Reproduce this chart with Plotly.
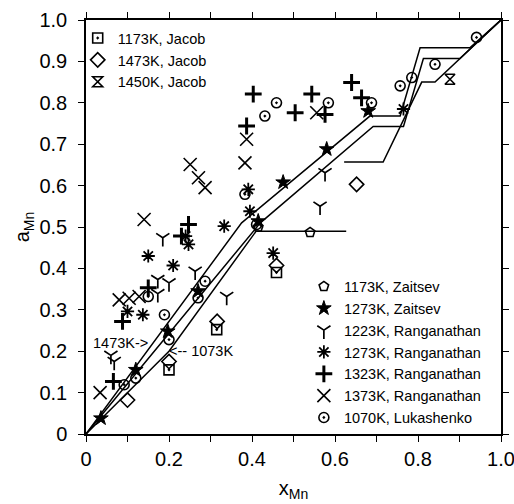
import plotly.graph_objects as go

# ---------------- data ----------------
jacob1173_x = [0.2, 0.315, 0.459]
jacob1173_y = [0.155, 0.252, 0.39]
jacob1473_x = [0.1, 0.2, 0.316, 0.459, 0.652]
jacob1473_y = [0.082, 0.175, 0.272, 0.407, 0.603]
jacob1450_x = [0.877]
jacob1450_y = [0.857]

zait1173_x = [0.415, 0.54]
zait1173_y = [0.5, 0.487]
zait1273_x = [0.036, 0.12, 0.197, 0.27, 0.415, 0.475, 0.58, 0.68]
zait1273_y = [0.038, 0.155, 0.248, 0.345, 0.514, 0.608, 0.688, 0.78]

rang1223_x = [0.06, 0.068, 0.173, 0.2, 0.173, 0.185, 0.263, 0.339, 0.576, 0.564]
rang1223_y = [0.19, 0.175, 0.373, 0.365, 0.339, 0.474, 0.393, 0.332, 0.631, 0.55]
rang1273_x = [0.1, 0.137, 0.15, 0.21, 0.247, 0.24, 0.333, 0.391, 0.395, 0.451, 0.765]
rang1273_y = [0.296, 0.288, 0.43, 0.407, 0.458, 0.478, 0.502, 0.591, 0.538, 0.437, 0.785]
rang1323_x = [0.066, 0.088, 0.15, 0.247, 0.23, 0.387, 0.403, 0.504, 0.544, 0.576, 0.64, 0.664]
rang1323_y = [0.127, 0.272, 0.353, 0.506, 0.478, 0.744, 0.821, 0.776, 0.821, 0.772, 0.849, 0.812]
rang1373_x = [0.034, 0.08, 0.104, 0.128, 0.14, 0.251, 0.271, 0.287, 0.383, 0.387, 0.556]
rang1373_y = [0.1, 0.324, 0.328, 0.332, 0.518, 0.651, 0.619, 0.595, 0.655, 0.712, 0.776]

luka1070_x = [0.092, 0.12, 0.2, 0.189, 0.15, 0.287, 0.27, 0.383, 0.411, 0.431, 0.459,
              0.584, 0.688, 0.757, 0.785, 0.841, 0.941]
luka1070_y = [0.119, 0.135, 0.228, 0.288, 0.332, 0.369, 0.329, 0.579, 0.506, 0.768, 0.8,
              0.8, 0.8, 0.841, 0.861, 0.893, 0.958]

# calculated curves (None = break in the drawn line)
curve1473_x = [0, 0.375, 0.684, 0.757, 0.805, 0.925, 1.0]
curve1473_y = [0, 0.51, 0.768, 0.768, 0.933, 0.933, 1.0]
curve_mid_x = [0, 0.42, 0.692, 0.765, 0.813, 0.901, 1.0]
curve_mid_y = [0, 0.51, 0.743, 0.743, 0.907, 0.907, 1.0]
curve1073_x = [0, 0.2, 0.41, 0.627, None, 0.622, 0.716, 0.809, 0.841, 1.0]
curve1073_y = [0, 0.2, 0.49, 0.49, None, 0.657, 0.657, 0.85, 0.85, 1.0]

xtick_vals = [0, 0.2, 0.4, 0.6, 0.8, 1.0]
xtick_text = ["0", "0.2", "0.4", "0.6", "0.8", "1.0"]
xminor_vals = [0.1, 0.3, 0.5, 0.7, 0.9]
ytick_vals = [0, 0.1, 0.2, 0.3, 0.4, 0.5, 0.6, 0.7, 0.8, 0.9, 1.0]
ytick_text = ["0", "0.1", "0.2", "0.3", "0.4", "0.5", "0.6", "0.7", "0.8", "0.9", "1.0"]

FONT = "Liberation Sans, Arial, sans-serif"
BLACK = "black"

fig = go.Figure()

for cx, cy in [(curve1473_x, curve1473_y), (curve_mid_x, curve_mid_y), (curve1073_x, curve1073_y)]:
    fig.add_trace(go.Scatter(x=cx, y=cy, mode="lines", line=dict(color=BLACK, width=1.5),
                             showlegend=False, hoverinfo="skip"))

def add_series(x, y, name, symbol, size, legend, lw=1.6):
    fig.add_trace(go.Scatter(
        x=x, y=y, mode="markers", name=name, legend=legend,
        marker=dict(symbol=symbol, size=size, color=BLACK,
                    line=dict(color=BLACK, width=lw))))

add_series(jacob1173_x, jacob1173_y, "1173K, Jacob", "square-open-dot", 10, "legend")
add_series(jacob1473_x, jacob1473_y, "1473K, Jacob", "diamond-open", 11, "legend")
add_series(jacob1450_x, jacob1450_y, "1450K, Jacob", "hourglass-open", 10, "legend")

add_series(zait1173_x, zait1173_y, "1173K, Zaitsev", "pentagon-open", 10, "legend2")
add_series(zait1273_x, zait1273_y, "1273K, Zaitsev", "star", 11, "legend2", lw=1)
add_series(rang1223_x, rang1223_y, "1223K, Ranganathan", "y-down", 11, "legend2", lw=1.7)
add_series(rang1273_x, rang1273_y, "1273K, Ranganathan", "asterisk", 11, "legend2", lw=1.8)
add_series(rang1323_x, rang1323_y, "1323K, Ranganathan", "cross-thin", 12, "legend2", lw=3)
add_series(rang1373_x, rang1373_y, "1373K, Ranganathan", "x-thin", 13, "legend2", lw=1.6)
add_series(luka1070_x, luka1070_y, "1070K, Lukashenko", "circle-open-dot", 10, "legend2")

axis_common = dict(
    range=[0, 1.0], showline=True, linecolor=BLACK, linewidth=1.5, mirror="ticks",
    ticks="outside", ticklen=6, tickwidth=1.2, tickcolor=BLACK, showgrid=False,
    zeroline=False, tickfont=dict(family=FONT, size=20, color=BLACK),
    ticklabeloverflow="allow",
)

fig.update_layout(
    width=514, height=504,
    margin=dict(l=86, r=13, t=20, b=70, autoexpand=False),
    paper_bgcolor="white", plot_bgcolor="white",
    font=dict(family=FONT, color=BLACK),
    xaxis=dict(**axis_common, tickmode="array", tickvals=xtick_vals, ticktext=xtick_text,
               ticklabelstandoff=0,
               minor=dict(tickmode="array", tickvals=xminor_vals, ticks="outside",
                          ticklen=6, tickwidth=1.2, tickcolor=BLACK, showgrid=False),
               title=dict(text="x<sub>Mn</sub>", font=dict(family=FONT, size=20, color=BLACK),
                          standoff=12)),
    yaxis=dict(**axis_common, tickmode="array", tickvals=ytick_vals, ticktext=ytick_text,
               ticklabelstandoff=7,
               title=dict(text="a<sub>Mn</sub>", font=dict(family=FONT, size=20, color=BLACK),
                          standoff=4)),
    legend=dict(x=-0.02, y=0.995, xanchor="left", yanchor="top", bgcolor="rgba(0,0,0,0)",
                font=dict(family=FONT, size=14.5, color=BLACK), itemwidth=30,
                tracegroupgap=0),
    legend2=dict(x=0.525, y=0.395, xanchor="left", yanchor="top", bgcolor="rgba(0,0,0,0)",
                 font=dict(family=FONT, size=14.5, color=BLACK), itemwidth=30,
                 tracegroupgap=0),
    showlegend=True,
)

fig.add_annotation(x=0.154, y=0.22, xref="x", yref="y", text="1473K->", showarrow=False,
                   xanchor="right", yanchor="middle", font=dict(family=FONT, size=14.5, color=BLACK))
fig.add_annotation(x=0.195, y=0.2, xref="x", yref="y", text="<-- 1073K", showarrow=False,
                   xanchor="left", yanchor="middle", font=dict(family=FONT, size=14.5, color=BLACK))

fig.write_html("out.html")
